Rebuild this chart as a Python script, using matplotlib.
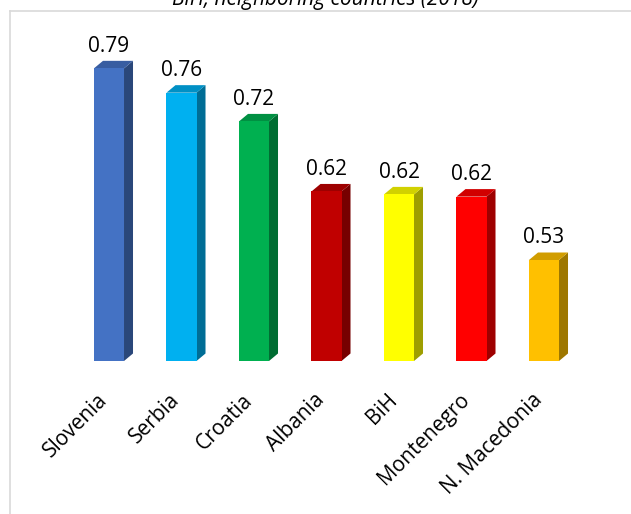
import numpy as np
import matplotlib
matplotlib.use("Agg")
import matplotlib.pyplot as plt
from matplotlib.patches import Polygon
from matplotlib.lines import Line2D
from matplotlib.colors import to_rgb
from matplotlib.transforms import ScaledTranslation

# data
countries = ["Slovenia", "Serbia", "Croatia", "Albania", "BiH", "Montenegro", "N. Macedonia"]
values = [0.79, 0.757, 0.718, 0.623, 0.619, 0.616, 0.53]
colors = ["#4472C4", "#00B0F0", "#00B050", "#C00000", "#FFFF00", "#FF0000", "#FFC000"]

plt.rcParams["font.family"] = ["Open Sans", "DejaVu Sans"]

W, H = 631, 514
fig = plt.figure(figsize=(W / 100, H / 100), dpi=100)

# axes placed so the floor of the bars is at ~361px
ymin, ymax = 0.393, 0.842
ax = fig.add_axes([72.75 / W, (H - 361) / H, 507.5 / W, 331 / H])
ax.set_xlim(-0.5, len(countries) - 0.5)
ax.set_ylim(ymin, ymax)

bar_w = 0.414
dx = 9 / 72.5          # depth of the side face in x units
dy = 7.5 / 737         # depth of the top face in y units

def shade(c, f):
    r, g, b = to_rgb(c)
    return (r * f, g * f, b * f)

x = np.arange(len(countries))
ax.bar(x, np.array(values) - ymin, bottom=ymin, width=bar_w, color=colors,
       zorder=3, clip_on=False)

for xi, v, c in zip(x, values, colors):
    l, r = xi - bar_w / 2, xi + bar_w / 2
    side = Polygon([(r, ymin), (r + dx, ymin + dy), (r + dx, v + dy), (r, v)],
                   closed=True, facecolor=shade(c, 0.62), edgecolor="none",
                   zorder=2, clip_on=False)
    top = Polygon([(l, v), (l + dx, v + dy), (r + dx, v + dy), (r, v)],
                  closed=True, facecolor=shade(c, 0.82), edgecolor="none",
                  zorder=2, clip_on=False)
    ax.add_patch(side)
    ax.add_patch(top)
    ax.annotate(f"{v:.2f}", (xi, v), xytext=(0, 12), textcoords="offset points",
                ha="center", va="baseline", fontsize=15)

ax.set_xticks(x, labels=countries, rotation=45, ha="right", va="center",
              rotation_mode="anchor", fontsize=15)
ax.tick_params(axis="x", length=0, pad=26)
shift = ScaledTranslation(-0.05, 0, fig.dpi_scale_trans)
for lab in ax.get_xticklabels():
    lab.set_transform(lab.get_transform() + shift)
ax.set_yticks([])
for s in ax.spines.values():
    s.set_visible(False)

# title, mostly cut off at the top of the picture
fig.text(325 / W, 1 - 5 / H, "BiH, neighboring countries (2018)", ha="center",
         va="baseline", fontsize=15, style="italic")

# chart frame (left and top edges visible)
fx, fy = 9.5 / W, 1 - 10.7 / H
fig.add_artist(Line2D([fx, fx], [0, fy], color="#d9d9d9", lw=1.2, transform=fig.transFigure))
fig.add_artist(Line2D([fx, 1], [fy, fy], color="#d9d9d9", lw=1.2, transform=fig.transFigure))

fig.savefig("out.png", dpi=100)
